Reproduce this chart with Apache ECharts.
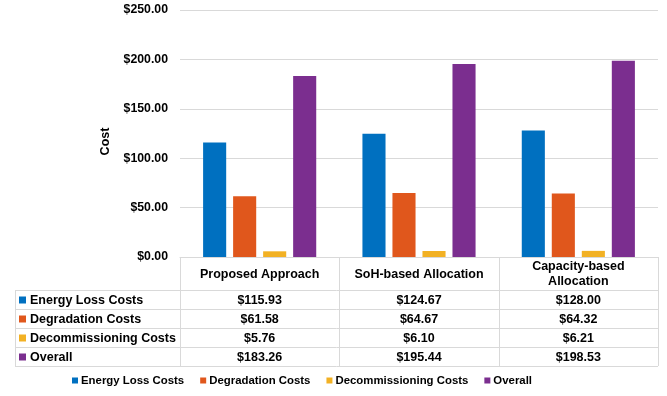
<!DOCTYPE html>
<html>
<head>
<meta charset="utf-8">
<script src="https://cdn.jsdelivr.net/npm/echarts@6/dist/echarts.min.js"></script>
<style>
  html, body { margin: 0; padding: 0; background: #fff; }
  #main { width: 667px; height: 396px; }
</style>
</head>
<body>
<div id="main"></div>
<script>
// bar chart with an Excel-style data table underneath

var categories = ['Proposed Approach', 'SoH-based Allocation', 'Capacity-based\nAllocation'];
var seriesNames = ['Energy Loss Costs', 'Degradation Costs', 'Decommissioning Costs', 'Overall'];
var energyLoss = [115.93, 124.67, 128.00];
var degradation = [61.58, 64.67, 64.32];
var decommissioning = [5.76, 6.10, 6.21];
var overall = [183.26, 195.44, 198.53];
var colors = ['#0070c0', '#e0571c', '#f2b124', '#7b2e8f'];

var values = [energyLoss, degradation, decommissioning, overall];
var font = 'Liberation Sans, Arial, Helvetica, sans-serif';

var gridLeft = 180, gridRight = 9, gridTop = 10, gridBottom = 139;
var W = 667, H = 396;
var plotW = W - gridLeft - gridRight;
var colW = plotW / categories.length;
var axisY = H - gridBottom;
var headerH = 33, rowH = 19, tableLeft = 15;
var lineColor = '#d9d9d9';
var tableFont = 'bold 12.5px ' + font;

function money(v) {
    return '$' + v.toFixed(2);
}

var chart = echarts.init(document.getElementById('main'));

var series = [];
for (var i = 0; i < seriesNames.length; i++) {
    series.push({
        name: seriesNames[i],
        type: 'bar',
        data: values[i],
        barGap: '30%',
        barCategoryGap: '29%',
        itemStyle: { color: colors[i] }
    });
}

// table built from the same arrays
var g = [];
var tableBottom = axisY + headerH + rowH * seriesNames.length;
// vertical lines of the category columns
for (var c = 0; c <= categories.length; c++) {
    var x = Math.round(gridLeft + colW * c) + 0.5;
    g.push({ type: 'line', shape: { x1: x, y1: axisY, x2: x, y2: tableBottom },
        style: { stroke: lineColor, lineWidth: 1 }, silent: true });
}
// left border of the row labels
g.push({ type: 'line', shape: { x1: tableLeft + 0.5, y1: axisY + headerH, x2: tableLeft + 0.5, y2: tableBottom },
    style: { stroke: lineColor, lineWidth: 1 }, silent: true });
// horizontal lines
for (var r = 0; r <= seriesNames.length; r++) {
    var y = axisY + headerH + rowH * r + 0.5;
    g.push({ type: 'line', shape: { x1: tableLeft, y1: y, x2: gridLeft + plotW, y2: y },
        style: { stroke: lineColor, lineWidth: 1 }, silent: true });
}
// header texts
for (var c = 0; c < categories.length; c++) {
    g.push({ type: 'text', x: gridLeft + colW * (c + 0.5), y: axisY + headerH / 2 + 1,
        style: { text: categories[c], font: tableFont, fill: '#000',
            align: 'center', verticalAlign: 'middle', lineHeight: 15 } });
}
// row labels and values
for (var r = 0; r < seriesNames.length; r++) {
    var cy = axisY + headerH + rowH * (r + 0.5) + 1;
    g.push({ type: 'rect', shape: { x: tableLeft + 4, y: cy - 4, width: 7, height: 7 },
        style: { fill: colors[r] } });
    g.push({ type: 'text', x: tableLeft + 15, y: cy,
        style: { text: seriesNames[r], font: tableFont, fill: '#000',
            align: 'left', verticalAlign: 'middle' } });
    for (var c = 0; c < categories.length; c++) {
        g.push({ type: 'text', x: gridLeft + colW * (c + 0.5), y: cy,
            style: { text: money(values[r][c]), font: tableFont, fill: '#000',
                align: 'center', verticalAlign: 'middle' } });
    }
}

var option = {
    animation: false,
    backgroundColor: '#fff',
    textStyle: { fontFamily: font },
    grid: { left: gridLeft, right: gridRight, top: gridTop, bottom: gridBottom },
    legend: {
        data: seriesNames,
        top: 375,
        left: 72,
        padding: 0,
        icon: 'rect',
        itemWidth: 6,
        itemHeight: 6,
        itemGap: 16,
        textStyle: { fontFamily: font, fontWeight: 'bold', fontSize: 11.4, color: '#000', padding: [0, 0, 0, -2] }
    },
    xAxis: {
        type: 'category',
        data: categories,
        axisLine: { lineStyle: { color: lineColor } },
        axisTick: { show: false },
        axisLabel: { show: false }
    },
    yAxis: {
        type: 'value',
        min: 0,
        max: 250,
        interval: 50,
        name: 'Cost',
        nameLocation: 'middle',
        nameGap: 68,
        nameTextStyle: { fontFamily: font, fontWeight: 'bold', fontSize: 12.5, color: '#000', padding: [0, 16, 0, 0] },
        axisLine: { show: false },
        axisTick: { show: false },
        axisLabel: {
            formatter: money,
            fontFamily: font, fontWeight: 'bold', fontSize: 12.3, color: '#000', margin: 12
        },
        splitLine: { lineStyle: { color: lineColor } }
    },
    graphic: g,
    series: series
};
chart.setOption(option);
</script>
</body>
</html>
